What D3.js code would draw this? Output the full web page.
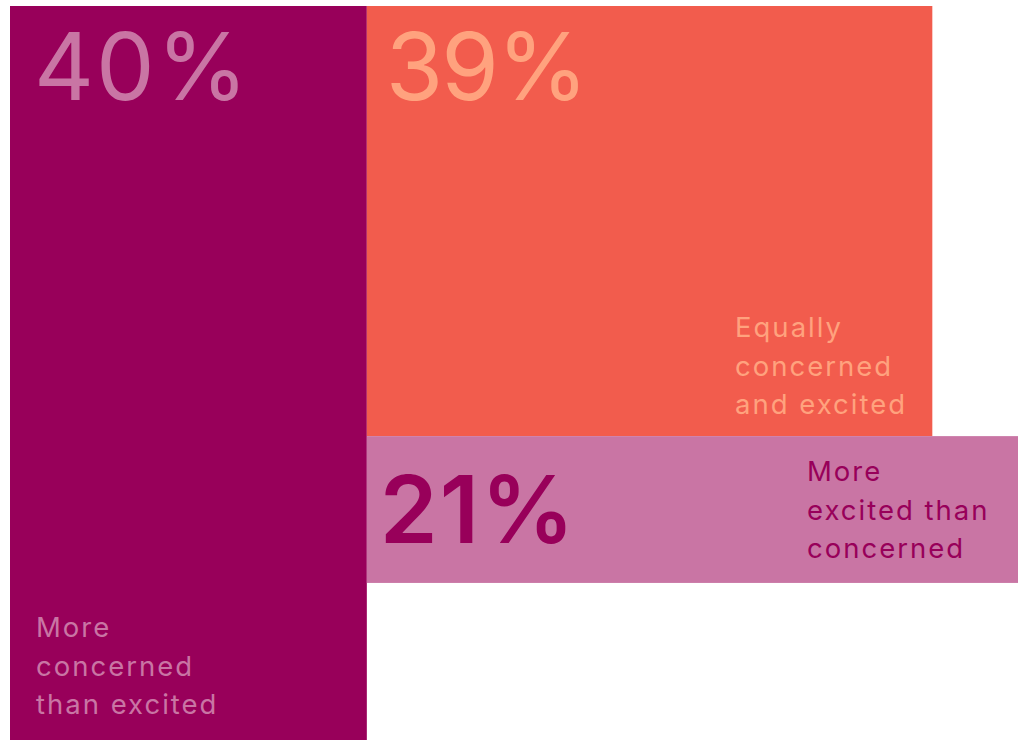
<!DOCTYPE html>
<html>
<head>
<meta charset="utf-8">
<script src="https://cdn.jsdelivr.net/npm/d3@7"></script>
<style>
  body { margin: 0; background: #fff; }
  svg text { font-family: Inter, "Noto Sans", sans-serif; }
</style>
</head>
<body>
<div id="chart"></div>
<script>
// Share of answers, in the order the blocks are drawn.
var categories = ["More concerned than excited", "Equally concerned and excited", "More excited than concerned"];
var values = [40, 39, 21];
// Labels split the way they wrap in the picture.
var labelLines = [
    ["More", "concerned", "than excited"],
    ["Equally", "concerned", "and excited"],
    ["More", "excited than", "concerned"]
];

var width = 1026, height = 740;

var svg = d3.select("#chart")
    .append("svg")
        .attr("width", width)
        .attr("height", height);

// Position scales for the whole block (fractions of the area).
var x = d3.scaleLinear().domain([0, 1]).range([10, 1018]);
var y = d3.scaleLinear().domain([0, 1]).range([6, 740]);

// Colours per category.
var fill = d3.scaleOrdinal().domain(categories).range(["#98005a", "#f25c4d", "#c975a4"]);
var ink = d3.scaleOrdinal().domain(categories).range(["#c975a4", "#ffa27e", "#98005a"]);

// Block layout: left column full height, right column split in two.
var boxes = [
    {x0: 0, x1: 0.354, y0: 0, y1: 1},
    {x0: 0.354, x1: 0.915, y0: 0, y1: 0.586},
    {x0: 0.354, x1: 1, y0: 0.586, y1: 0.786}
];

var data = categories.map(function(c, i){
    return {name: c, value: values[i], lines: labelLines[i], box: boxes[i]};
});

svg.selectAll("rect.block")
    .data(data)
    .enter()
    .append("rect")
        .attr("class", "block")
        .attr("x", function(d){ return x(d.box.x0); })
        .attr("y", function(d){ return y(d.box.y0); })
        .attr("width", function(d){ return x(d.box.x1) - x(d.box.x0); })
        .attr("height", function(d){ return y(d.box.y1) - y(d.box.y0); })
        .attr("fill", function(d){ return fill(d.name); });

// Big percentage numbers.
var pctPos = [
    {dx: 24, dy: 94, weight: 400, ls: 2},
    {dx: 19, dy: 94, weight: 400, ls: -2},
    {dx: 13, dy: 107, weight: 600, ls: 2}
];
svg.selectAll("text.pct")
    .data(data)
    .enter()
    .append("text")
        .attr("class", "pct")
        .attr("x", function(d, i){ return x(d.box.x0) + pctPos[i].dx; })
        .attr("y", function(d, i){ return y(d.box.y0) + pctPos[i].dy; })
        .attr("font-size", "93px")
        .attr("font-weight", function(d, i){ return pctPos[i].weight; })
        .attr("letter-spacing", function(d, i){ return pctPos[i].ls + "px"; })
        .attr("fill", function(d){ return ink(d.name); })
        .text(function(d){ return d.value + "%"; });

// Category labels, three lines each.
var labelPos = [
    {x: 36, y: 637},
    {x: 735, y: 337},
    {x: 807, y: 481}
];
var labels = svg.selectAll("text.label")
    .data(data)
    .enter()
    .append("text")
        .attr("class", "label")
        .attr("x", function(d, i){ return labelPos[i].x; })
        .attr("y", function(d, i){ return labelPos[i].y; })
        .attr("font-size", "27.5px")
        .attr("letter-spacing", "2px")
        .attr("fill", function(d){ return ink(d.name); });

labels.selectAll("tspan")
    .data(function(d, i){ return d.lines.map(function(l){ return {t: l, x: labelPos[i].x}; }); })
    .enter()
    .append("tspan")
        .attr("x", function(d){ return d.x; })
        .attr("dy", function(d, j){ return j == 0 ? 0 : 38.5; })
        .text(function(d){ return d.t; });
</script>
</body>
</html>
